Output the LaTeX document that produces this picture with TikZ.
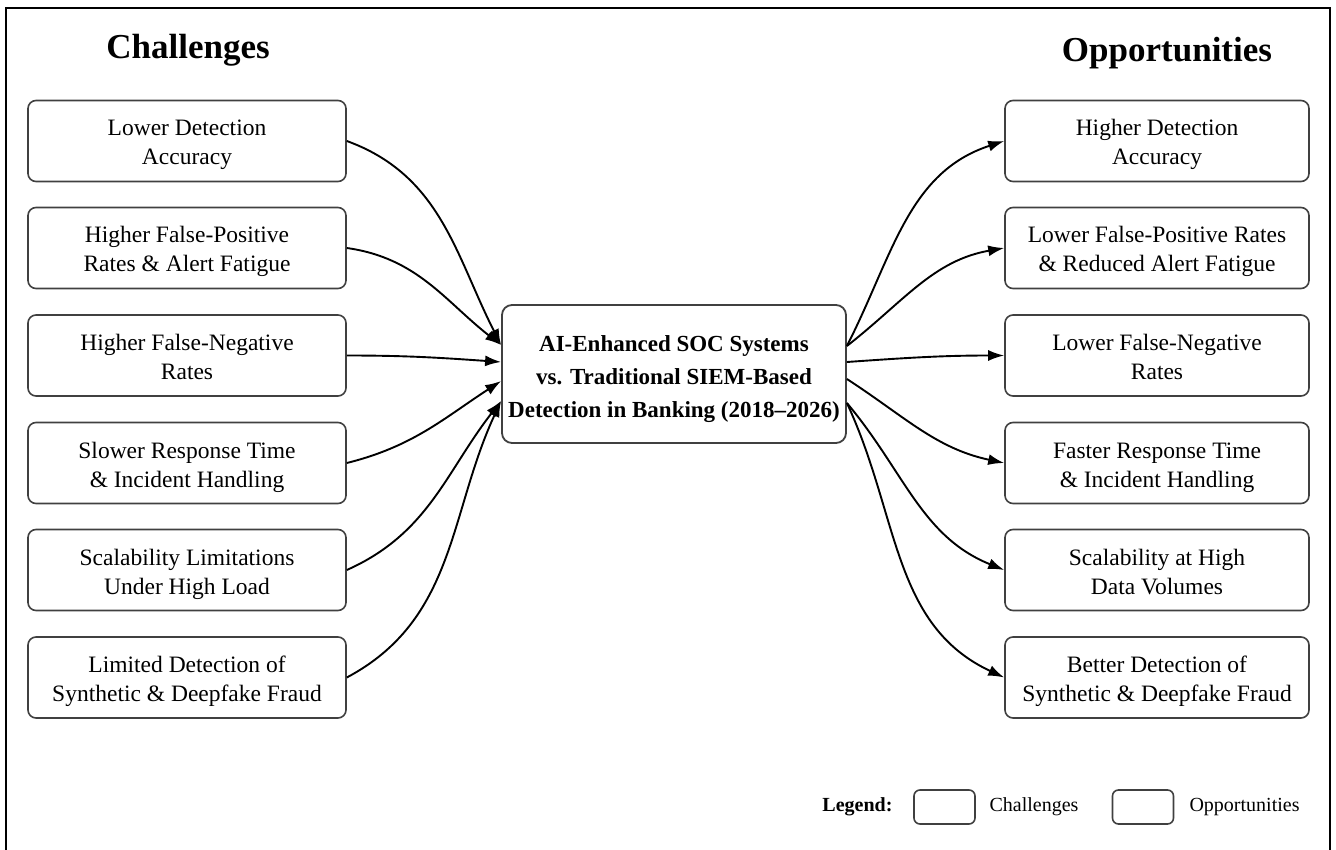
\documentclass[tikz,border=0pt]{standalone}
\usepackage{fontspec}
\setmainfont{Liberation Serif}
\usetikzlibrary{arrows.meta,positioning}

\tikzset{
  item/.style={draw=black!75, line width=1.6pt, rounded corners=8pt,
    align=center, minimum height=81pt, inner sep=0pt,
    text height=48pt, text depth=0pt,
    font=\fontsize{23.5}{29}\selectfont},
  leftitem/.style={item, minimum width=318pt},
  rightitem/.style={item, minimum width=304pt},
  hub/.style={draw=black!75, line width=1.8pt, rounded corners=10pt,
    align=center, minimum width=344pt, minimum height=138pt, inner sep=0pt,
    text height=86pt, text depth=0pt,
    font=\fontsize{23}{33}\selectfont\bfseries},
  heading/.style={font=\fontsize{35}{40}\selectfont\bfseries, anchor=base},
  link/.style={line width=1.9pt, -{Latex[length=16pt,width=11pt]}},
  keybox/.style={draw=black!75, line width=1.6pt, rounded corners=6pt,
    minimum width=61pt, minimum height=34pt, inner sep=0pt},
  keytext/.style={font=\fontsize{20}{24}\selectfont}
}

\begin{document}
\begin{tikzpicture}[x=1pt,y=1pt]
\useasboundingbox (0,0) rectangle (1336,-850);

% outer frame (open at the bottom edge)
\draw[line width=2.4pt] (6,-850) -- (6,-8) -- (1330,-8) -- (1330,-850);

% column headings
\node[heading] (hL) at (188,-59) {Challenges};
\node[heading] (hR) at (1167,-62) {Opportunities};

% central topic
\node[hub] (c) at (674,-374) {AI-Enhanced SOC Systems\\vs. Traditional SIEM-Based\\Detection in Banking (2018--2026)};

% challenges
\node[leftitem] (l1) at (187,-141) {Lower Detection\\Accuracy};
\node[leftitem] (l2) at (187,-248) {Higher False-Positive\\Rates \& Alert Fatigue};
\node[leftitem] (l3) at (187,-355.5) {Higher False-Negative\\Rates};
\node[leftitem] (l4) at (187,-463) {Slower Response Time\\\& Incident Handling};
\node[leftitem] (l5) at (187,-570) {Scalability Limitations\\Under High Load};
\node[leftitem] (l6) at (187,-677.5) {Limited Detection of\\Synthetic \& Deepfake Fraud};

% opportunities
\node[rightitem] (r1) at (1157,-141) {Higher Detection\\Accuracy};
\node[rightitem] (r2) at (1157,-248) {Lower False-Positive Rates\\\& Reduced Alert Fatigue};
\node[rightitem] (r3) at (1157,-355.5) {Lower False-Negative\\Rates};
\node[rightitem] (r4) at (1157,-463) {Faster Response Time\\\& Incident Handling};
\node[rightitem] (r5) at (1157,-570) {Scalability at High\\Data Volumes};
\node[rightitem] (r6) at (1157,-677.5) {Better Detection of\\Synthetic \& Deepfake Fraud};

% attachment points on the hub
\coordinate (cwA) at ([yshift=29pt]c.west);
\coordinate (cwB) at ([yshift=12pt]c.west);
\coordinate (cwC) at ([yshift=-7pt]c.west);
\coordinate (cwD) at ([yshift=-27pt]c.west);
\coordinate (ceA) at ([yshift=28pt]c.east);
\coordinate (ceB) at ([yshift=12pt]c.east);
\coordinate (ceC) at ([yshift=-5pt]c.east);
\coordinate (ceD) at ([yshift=-29pt]c.east);

% challenges into the hub
\draw[link] (l1.east) to[out=-20, in=117] (cwA);
\draw[link] (l2.east) to[out=-8, in=142] (cwA);
\draw[link] (l3.east) to[out=0, in=176] (cwB);
\draw[link] (l4.east) to[out=14, in=213] (cwC);
\draw[link] (l5.east) to[out=24, in=232] (cwD);
\draw[link] (l6.east) to[out=28, in=245] (cwD);

% hub out to opportunities
\draw[link] (ceA) to[out=63, in=198] (r1.west);
\draw[link] (ceA) to[out=38, in=190] (r2.west);
\draw[link] (ceB) to[out=4, in=180] (r3.west);
\draw[link] (ceC) to[out=-33, in=168] (r4.west);
\draw[link] (ceD) to[out=-50, in=158] (r5.west);
\draw[link] (ceD) to[out=-65, in=155] (r6.west);

% legend
\node[keytext, font=\fontsize{20}{24}\selectfont\bfseries, anchor=east] (lg) at (896,-807) {Legend:};
\node[keybox] (k1) at (944.5,-807) {};
\node[keytext, anchor=west] (k1t) at (986,-807) {Challenges};
\node[keybox] (k2) at (1143,-807) {};
\node[keytext, anchor=west] (k2t) at (1186,-807) {Opportunities};
\end{tikzpicture}
\end{document}
